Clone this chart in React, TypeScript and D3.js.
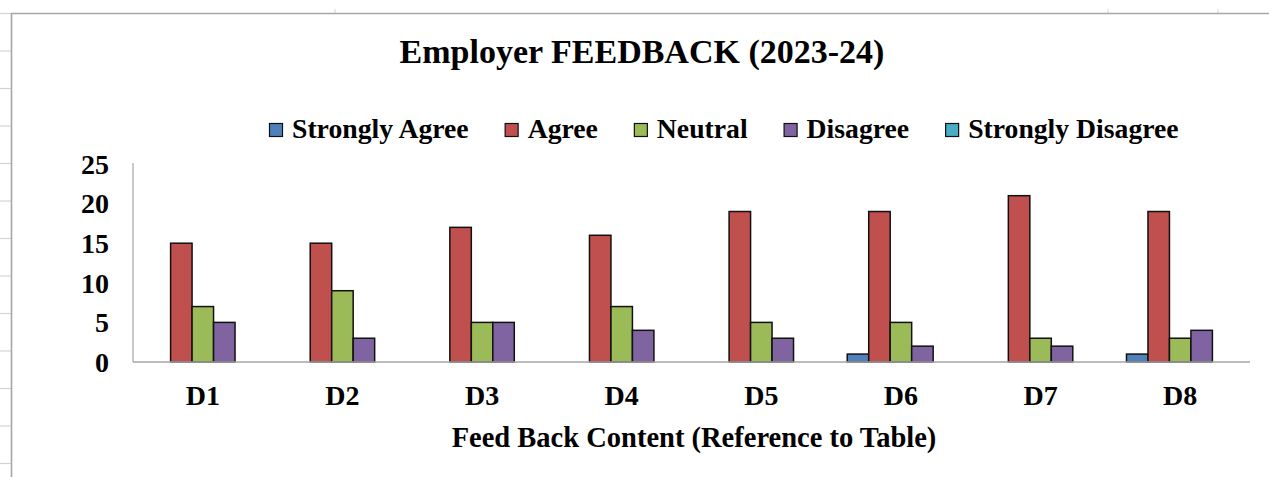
import React, { useEffect, useRef } from "react";
import * as d3 from "d3";

const categories = ["D1", "D2", "D3", "D4", "D5", "D6", "D7", "D8"];
const seriesNames = ["Strongly Agree", "Agree", "Neutral", "Disagree", "Strongly Disagree"];
const stronglyAgree = [0, 0, 0, 0, 0, 1, 0, 1];
const agree = [15, 15, 17, 16, 19, 19, 21, 19];
const neutral = [7, 9, 5, 7, 5, 5, 3, 3];
const disagree = [5, 3, 5, 4, 3, 2, 2, 4];
const stronglyDisagree = [0, 0, 0, 0, 0, 0, 0, 0];
const yTicks = [0, 5, 10, 15, 20, 25];
const colors = ["#4F81BD", "#C0504D", "#9BBB59", "#8064A2", "#4BACC6"];

const W = 1269;
const H = 477;
const FONT = "'Liberation Serif', 'Times New Roman', serif";

export default function App() {
  const ref = useRef<SVGSVGElement | null>(null);

  useEffect(() => {
    const svg = d3.select(ref.current);
    svg.selectAll("*").remove();
    const values = [stronglyAgree, agree, neutral, disagree, stronglyDisagree];

    // spreadsheet background gridlines left of the chart frame
    const gridYs = d3.range(0, 13).map((i) => 13.5 + i * 37.5);
    svg.append("g").selectAll("line").data(gridYs).join("line")
      .attr("x1", 0).attr("x2", 11).attr("y1", (d) => d).attr("y2", (d) => d)
      .attr("stroke", "#d4d4d4").attr("stroke-width", 1.2);
    svg.append("g").selectAll("line").data([335, 1108, 1218]).join("line")
      .attr("x1", (d) => d).attr("x2", (d) => d).attr("y1", 9).attr("y2", 13)
      .attr("stroke", "#d4d4d4").attr("stroke-width", 1);

    // chart frame
    svg.append("path")
      .attr("d", `M11.5,${H + 2} L11.5,13.5 L${W + 2},13.5`)
      .attr("fill", "none").attr("stroke", "#a6a6a6").attr("stroke-width", 1.6);

    const left = 133, right = 1250, top = 164, bottom = 362;
    // gap width 150%: group = band / (1 + 1.5/5)
    const xCat = d3.scaleBand().domain(categories).range([left, right]).padding(0);
    const groupW = xCat.bandwidth() / 1.3;
    const x1 = d3.scaleBand().domain(seriesNames).range([0, groupW]).padding(0);
    const y = d3.scaleLinear().domain([0, 25]).range([bottom, top]);

    // y axis line
    svg.append("line").attr("x1", left).attr("x2", left).attr("y1", top - 1).attr("y2", bottom)
      .attr("stroke", "#a6a6a6").attr("stroke-width", 1.2);

    // bars
    const g = svg.append("g");
    seriesNames.forEach((name, si) => {
      g.append("g").selectAll("rect").data(categories).join("rect")
        .attr("x", (c) => (xCat(c) as number) + (xCat.bandwidth() - groupW) / 2 + (x1(name) as number))
        .attr("y", (c, i) => y(values[si][i]))
        .attr("width", x1.bandwidth())
        .attr("height", (c, i) => y(0) - y(values[si][i]))
        .attr("fill", colors[si])
        .attr("stroke", (c, i) => (values[si][i] > 0 ? "#111" : "none"))
        .attr("stroke-width", 1.5);
    });

    svg.append("line").attr("x1", left).attr("x2", right).attr("y1", bottom).attr("y2", bottom)
      .attr("stroke", "#a6a6a6").attr("stroke-width", 1.6);

    // y tick labels
    svg.append("g").selectAll("text").data(yTicks).join("text")
      .attr("x", 109).attr("y", (d) => y(d)).attr("dy", "0.35em")
      .attr("text-anchor", "end")
      .attr("font-family", FONT).attr("font-weight", "bold").attr("font-size", 28)
      .attr("fill", "#000").text((d) => String(d));

    // x tick labels
    svg.append("g").selectAll("text").data(categories).join("text")
      .attr("x", (c) => (xCat(c) as number) + xCat.bandwidth() / 2).attr("y", 405)
      .attr("text-anchor", "middle")
      .attr("font-family", FONT).attr("font-weight", "bold").attr("font-size", 28)
      .attr("fill", "#000").text((c) => c);

    // axis title
    svg.append("text").attr("x", 694).attr("y", 447).attr("text-anchor", "middle")
      .attr("font-family", FONT).attr("font-weight", "bold").attr("font-size", 28.5)
      .attr("fill", "#000").text("Feed Back Content (Reference to Table)");

    // title
    svg.append("text").attr("x", 642).attr("y", 63).attr("text-anchor", "middle")
      .attr("font-family", FONT).attr("font-weight", "bold").attr("font-size", 34)
      .attr("fill", "#000").text("Employer FEEDBACK (2023-24)");

    // legend
    const lg = svg.append("g");
    let lx = 269;
    seriesNames.forEach((name, si) => {
      lg.append("rect").attr("x", lx + 0.5).attr("y", 123.5).attr("width", 13).attr("height", 13)
        .attr("fill", colors[si]).attr("stroke", "#111").attr("stroke-width", 1.2);
      const t = lg.append("text").attr("x", lx + 23).attr("y", 138)
        .attr("font-family", FONT).attr("font-weight", "bold").attr("font-size", 27.7)
        .attr("fill", "#000").text(name);
      const tw = (t.node() as SVGTextElement).getComputedTextLength();
      lx += 23 + tw + 36;
    });
  }, []);

  return (
    <svg
      ref={ref}
      width={W}
      height={H}
      style={{ position: "fixed", left: 0, top: 0, background: "#fff" }}
    />
  );
}
